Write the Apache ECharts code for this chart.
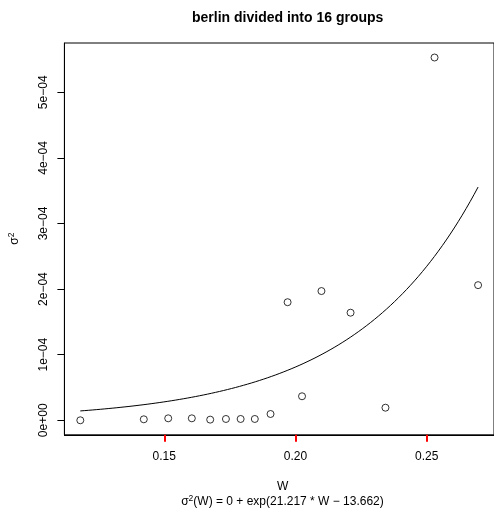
<!DOCTYPE html>
<html>
<head>
<meta charset="utf-8">
<script src="https://cdn.jsdelivr.net/npm/echarts@6/dist/echarts.min.js"></script>
<style>
html,body{margin:0;padding:0;background:#fff}
#c{width:494px;height:514px}
</style>
</head>
<body>
<div id="c"></div>
<script>
// Group widths W and their variances
const widths = [0.1180, 0.1422, 0.1515, 0.1605, 0.1675, 0.1735, 0.1791, 0.1845,
                0.1905, 0.1970, 0.2025, 0.2099, 0.2210, 0.2343, 0.2530, 0.2696];
const variances = [0, 1.5e-6, 3.0e-6, 3.0e-6, 1.0e-6, 2.0e-6, 2.0e-6, 2.0e-6,
                   9.6e-6, 1.80e-4, 3.66e-5, 1.97e-4, 1.64e-4, 1.92e-5, 5.53e-4, 2.06e-4];

// Fitted model sigma^2(W) = offset + exp(slope * W + intercept)
const fitOffset = 0;
const fitSlope = 21.217;
const fitIntercept = -13.662;

// Axis ticks
const xTicks = [0.15, 0.20, 0.25];
const xTickLabels = ['0.15', '0.20', '0.25'];
const yTicks = [0, 1e-4, 2e-4, 3e-4, 4e-4, 5e-4];
const yTickLabels = ['0e+00', '1e\u221204', '2e\u221204', '3e\u221204', '4e\u221204', '5e\u221204'];

const FONT = '"Liberation Sans", Arial, Helvetica, sans-serif';

// Axis ranges padded by 4% on each side
function padded(arr) {
  const lo = Math.min(...arr), hi = Math.max(...arr), d = (hi - lo) * 0.04;
  return [lo - d, hi + d];
}
const [xMin, xMax] = padded(widths);
const [yMin, yMax] = padded(variances);

// Fitted curve evaluated across the observed range of W
const fitCurve = [];
{
  const lo = Math.min(...widths), hi = Math.max(...widths), n = 101;
  for (let i = 0; i < n; i++) {
    const w = lo + (hi - lo) * i / (n - 1);
    fitCurve.push([w, fitOffset + Math.exp(fitSlope * w + fitIntercept)]);
  }
}

const points = widths.map((w, i) => [w, variances[i]]);

function labelFor(ticks, labels) {
  return v => {
    for (let i = 0; i < ticks.length; i++) {
      if (Math.abs(ticks[i] - v) < 1e-12) return labels[i];
    }
    return '';
  };
}

// Text with a raised "2" after sigma
const sigmaRich = {
  b: {fontFamily: FONT, fontSize: 12, fill: '#000', lineHeight: 14},
  s: {fontFamily: FONT, fontSize: 8.5, fill: '#000', lineHeight: 14, padding: [0, 0, 7, 0]}
};

const chart = echarts.init(document.getElementById('c'), null, {renderer: 'canvas'});
chart.setOption({
  animation: false,
  backgroundColor: '#ffffff',
  grid: {
    left: 64.4, top: 43, right: -7.2, bottom: 79.2,
    show: true, borderColor: '#000', borderWidth: 1
  },
  title: {
    text: 'berlin divided into 16 groups',
    left: 282.7, top: 6, textAlign: 'center',
    textStyle: {fontFamily: FONT, fontWeight: 'bold', fontSize: 14, color: '#000'}
  },
  xAxis: {
    type: 'value', min: xMin, max: xMax,
    splitLine: {show: false},
    axisLine: {show: true, onZero: false, lineStyle: {color: '#000', width: 1}},
    axisTick: {show: true, length: 7, interval: 0, customValues: xTicks,
               lineStyle: {color: '#ff0000', width: 2}},
    axisLabel: {show: true, interval: 0, customValues: xTicks, margin: 16,
                formatter: labelFor(xTicks, xTickLabels),
                fontFamily: FONT, fontSize: 12, color: '#000'}
  },
  yAxis: {
    type: 'value', min: yMin, max: yMax,
    splitLine: {show: false},
    axisLine: {show: true, onZero: false, lineStyle: {color: '#000', width: 1}},
    axisTick: {show: true, length: 7, interval: 0, customValues: yTicks,
               lineStyle: {color: '#000', width: 1}},
    axisLabel: {show: true, interval: 0, customValues: yTicks, margin: 15, rotate: 90,
                formatter: labelFor(yTicks, yTickLabels),
                fontFamily: FONT, fontSize: 12, color: '#000'}
  },
  graphic: [
    {
      type: 'text', x: 15, y: 238.6, rotation: Math.PI / 2,
      style: {text: '{b|\u03c3}{s|2}', align: 'center', verticalAlign: 'middle', rich: sigmaRich}
    },
    {
      type: 'text', x: 282.7, y: 487,
      style: {text: 'W', fontFamily: FONT, fontSize: 12, fill: '#000',
              align: 'center', verticalAlign: 'middle'}
    },
    {
      type: 'text', x: 282.5, y: 502,
      style: {
        text: '{b|\u03c3}{s|2}{b|(W) = 0 + exp(21.217 * W \u2212 13.662)}',
        align: 'center', verticalAlign: 'middle', rich: sigmaRich
      }
    }
  ],
  series: [
    {
      type: 'line', data: fitCurve, showSymbol: false, symbol: 'none',
      lineStyle: {color: '#000', width: 1}, silent: true, z: 2
    },
    {
      type: 'scatter', data: points, symbol: 'circle', symbolSize: 7,
      itemStyle: {color: 'rgba(0,0,0,0)', borderColor: '#000', borderWidth: 1},
      z: 3
    }
  ]
});
</script>
</body>
</html>
